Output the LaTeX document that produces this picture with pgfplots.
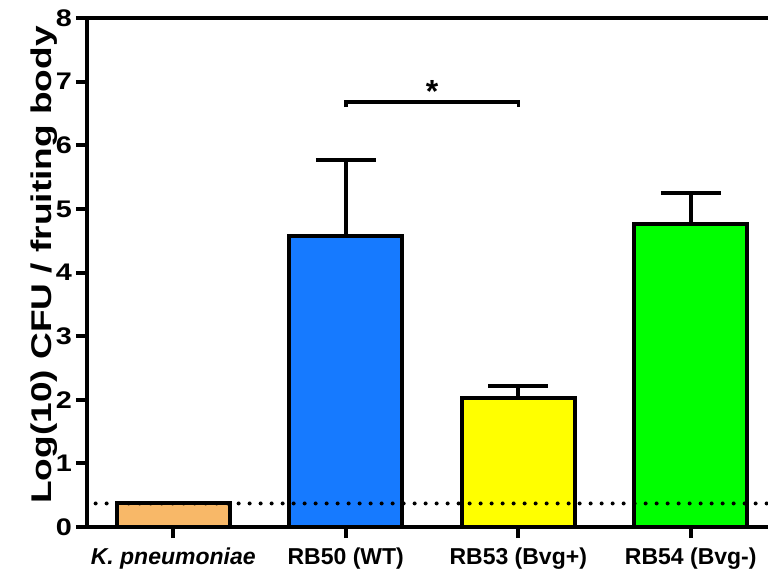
\documentclass[border=0pt]{standalone}
\usepackage{fontspec}
\setmainfont{Liberation Sans}
\usepackage{pgfplots}
\pgfplotsset{compat=1.18}
\definecolor{corange}{RGB}{248,184,104}
\definecolor{cblue}{RGB}{22,122,255}
\definecolor{cyellow}{RGB}{255,255,0}
\definecolor{cgreen}{RGB}{0,255,0}
\newcommand{\yt}[1]{\scalebox{1.2}[1]{#1}}
\begin{document}
\begin{tikzpicture}
\begin{axis}[
  at={(0,0)}, anchor=south west,
  scale only axis, width=690bp, height=509bp,
  xmin=-0.5, xmax=3.5, ymin=0, ymax=8,
  axis lines=left,
  axis line style={-, line width=4bp, black},
  clip=false,
  xtick={0,1,2,3},
  xticklabels={\textit{K. pneumoniae}, RB50 (WT), RB53 (Bvg+), RB54 (Bvg-)},
  ytick={0,1,2,3,4,5,6,7,8},
  yticklabels={\yt{0},\yt{1},\yt{2},\yt{3},\yt{4},\yt{5},\yt{6},\yt{7},\yt{8}},
  tick align=outside,
  major tick length=11bp,
  tick style={line width=4bp, black},
  xticklabel style={font=\fontsize{23bp}{27bp}\selectfont\bfseries, anchor=base, yshift=-26bp, inner sep=0pt},
  yticklabel style={font=\fontsize{24bp}{28bp}\selectfont\bfseries, anchor=east, inner sep=0pt, xshift=-4bp},
]
\addplot[ybar, bar width=113bp, bar shift=0pt, fill=corange, draw=black, line width=4bp]
  coordinates {(0,0.38)};
\addplot[ybar, bar width=113bp, bar shift=0pt, fill=cblue, draw=black, line width=4bp,
  error bars/.cd, y dir=plus, y explicit,
  error bar style={line width=4bp, black},
  error mark options={rotate=90, mark size=30bp, line width=4bp, black}]
  coordinates {(1,4.58) +- (0,1.19)};
\addplot[ybar, bar width=113bp, bar shift=0pt, fill=cyellow, draw=black, line width=4bp,
  error bars/.cd, y dir=plus, y explicit,
  error bar style={line width=4bp, black},
  error mark options={rotate=90, mark size=30bp, line width=4bp, black}]
  coordinates {(2,2.02) +- (0,0.19)};
\addplot[ybar, bar width=113bp, bar shift=0pt, fill=cgreen, draw=black, line width=4bp,
  error bars/.cd, y dir=plus, y explicit,
  error bar style={line width=4bp, black},
  error mark options={rotate=90, mark size=30bp, line width=4bp, black}]
  coordinates {(3,4.77) +- (0,0.48)};
\addplot[black, line width=4bp, dash pattern=on 0pt off 11bp, line cap=round]
  coordinates {(-0.45,0.37) (3.5,0.37)};
\addplot[black, line width=3.5bp] coordinates {(1,6.60) (1,6.68) (2,6.68) (2,6.60)};
\node[font=\fontsize{32bp}{34bp}\selectfont\bfseries] at (axis cs:1.5,6.84) {*};
\draw[line width=4bp, line cap=rect] (rel axis cs:0,1) -- (rel axis cs:1,1);
\end{axis}
\node[rotate=90, anchor=base, inner sep=0pt] at (-35.5bp,262bp)
  {\scalebox{1.3}[1]{\fontsize{28.5bp}{31bp}\selectfont\bfseries Log(10) CFU / fruiting body}};
\pgfresetboundingbox
\path (-87bp,-46bp) rectangle (681bp,527bp);
\end{tikzpicture}
\end{document}
